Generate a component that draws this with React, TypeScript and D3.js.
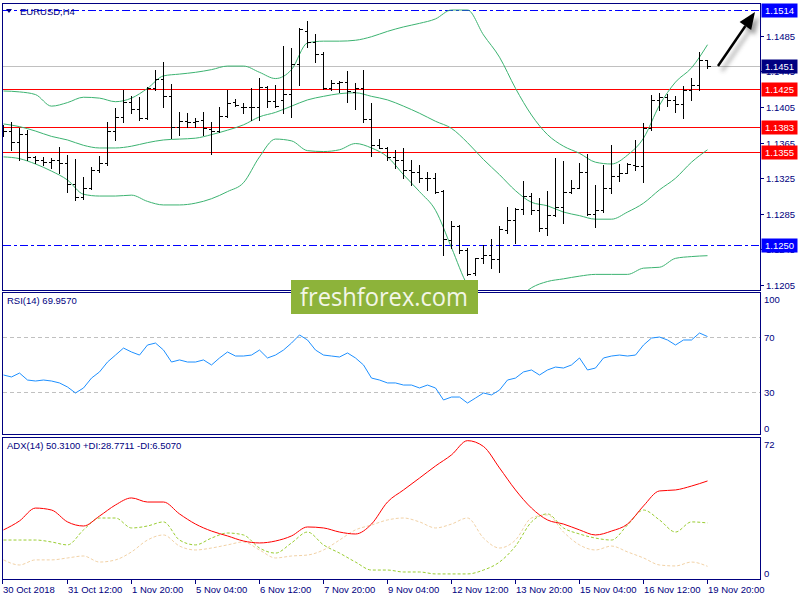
import React from "react";
import * as d3 from "d3";

const dateLabels = ["30 Oct 2018", "31 Oct 12:00", "1 Nov 20:00", "5 Nov 04:00", "6 Nov 12:00", "7 Nov 20:00", "9 Nov 04:00", "12 Nov 12:00", "13 Nov 20:00", "15 Nov 04:00", "16 Nov 12:00", "19 Nov 20:00"];
const dateTickBars = [0, 8, 16, 24, 32, 40, 48, 56, 64, 72, 80, 88];
const priceTicks = [1.1485, 1.1445, 1.1405, 1.1365, 1.1325, 1.1285, 1.1245, 1.1205];
const redLevels = [1.1425, 1.1383, 1.1355];
const blueLevels = [1.1514, 1.125];
const bidPrice = 1.1451;

const opens = [1.1379, 1.1378, 1.1366, 1.1375, 1.1349, 1.1346, 1.1343, 1.1346, 1.1342, 1.1319,
  1.1304, 1.1314, 1.1334, 1.1342, 1.1378, 1.1394, 1.1411, 1.1403, 1.1393, 1.1426,
  1.1437, 1.1417, 1.1383, 1.1389, 1.1388, 1.1390, 1.1380, 1.1378, 1.1395, 1.1411,
  1.1405, 1.1405, 1.1405, 1.1428, 1.1412, 1.1413, 1.1420, 1.1453, 1.1490, 1.1478,
  1.1465, 1.1426, 1.1432, 1.1433, 1.1422, 1.1426, 1.1392, 1.1362, 1.1359, 1.1349,
  1.1346, 1.1334, 1.1332, 1.1325, 1.1325, 1.1311, 1.1256, 1.1271, 1.1244, 1.1219,
  1.1235, 1.1239, 1.1234, 1.1267, 1.1278, 1.1290, 1.1305, 1.1289, 1.1269, 1.1284,
  1.1293, 1.1310, 1.1314, 1.1332, 1.1285, 1.1289, 1.1314, 1.1328, 1.1331, 1.1340,
  1.1339, 1.1381, 1.1413, 1.1416, 1.1413, 1.1408, 1.1424, 1.1430, 1.1458];
const highs = [1.1385, 1.1388, 1.1381, 1.1379, 1.1350, 1.1349, 1.1348, 1.1360, 1.1351, 1.1347,
  1.1326, 1.1338, 1.1350, 1.1388, 1.1404, 1.1424, 1.1417, 1.1416, 1.1428, 1.1447,
  1.1456, 1.1431, 1.1399, 1.1398, 1.1393, 1.1399, 1.1388, 1.1405, 1.1424, 1.1414,
  1.1410, 1.1426, 1.1438, 1.1429, 1.1430, 1.1474, 1.1471, 1.1494, 1.1502, 1.1487,
  1.1467, 1.1435, 1.1434, 1.1446, 1.1432, 1.1447, 1.1410, 1.1369, 1.1360, 1.1357,
  1.1359, 1.1346, 1.1340, 1.1332, 1.1331, 1.1312, 1.1277, 1.1273, 1.1247, 1.1235,
  1.1250, 1.1257, 1.1271, 1.1293, 1.1292, 1.1322, 1.1308, 1.1303, 1.1311, 1.1348,
  1.1344, 1.1323, 1.1342, 1.1352, 1.1317, 1.1340, 1.1362, 1.1341, 1.1342, 1.1368,
  1.1387, 1.1419, 1.1421, 1.1420, 1.1417, 1.1429, 1.1438, 1.1467, 1.1458];
const lows = [1.1372, 1.1357, 1.1346, 1.1346, 1.1342, 1.1340, 1.1337, 1.1331, 1.1310, 1.1301,
  1.1302, 1.1313, 1.1332, 1.1340, 1.1368, 1.1388, 1.1398, 1.1390, 1.1392, 1.1424,
  1.1405, 1.1370, 1.1374, 1.1383, 1.1383, 1.1374, 1.1352, 1.1377, 1.1394, 1.1406,
  1.1398, 1.1390, 1.1390, 1.1405, 1.1405, 1.1398, 1.1394, 1.1430, 1.1472, 1.1456,
  1.1425, 1.1424, 1.1422, 1.1411, 1.1403, 1.1388, 1.1350, 1.1359, 1.1346, 1.1337,
  1.1325, 1.1317, 1.1321, 1.1312, 1.1308, 1.1239, 1.1247, 1.1241, 1.1216, 1.1216,
  1.1230, 1.1224, 1.1220, 1.1263, 1.1252, 1.1285, 1.1285, 1.1266, 1.1261, 1.1283,
  1.1275, 1.1308, 1.1314, 1.1284, 1.1270, 1.1287, 1.1308, 1.1322, 1.1331, 1.1334,
  1.1321, 1.1379, 1.1402, 1.1406, 1.1399, 1.1393, 1.1413, 1.1424, 1.1449];
const closes = [1.1378, 1.1366, 1.1375, 1.1349, 1.1346, 1.1343, 1.1346, 1.1342, 1.1319, 1.1304,
  1.1314, 1.1334, 1.1342, 1.1378, 1.1394, 1.1411, 1.1403, 1.1393, 1.1426, 1.1437,
  1.1417, 1.1383, 1.1389, 1.1388, 1.1389, 1.1381, 1.1378, 1.1395, 1.1410, 1.1407,
  1.1405, 1.1405, 1.1428, 1.1412, 1.1406, 1.1420, 1.1453, 1.1493, 1.1478, 1.1465,
  1.1426, 1.1432, 1.1433, 1.1423, 1.1426, 1.1392, 1.1362, 1.1359, 1.1349, 1.1346,
  1.1334, 1.1332, 1.1325, 1.1325, 1.1310, 1.1257, 1.1271, 1.1244, 1.1217, 1.1235,
  1.1239, 1.1234, 1.1268, 1.1278, 1.1290, 1.1305, 1.1289, 1.1269, 1.1284, 1.1293,
  1.1310, 1.1314, 1.1332, 1.1285, 1.1289, 1.1314, 1.1328, 1.1331, 1.1341, 1.1339,
  1.1381, 1.1413, 1.1416, 1.1413, 1.1408, 1.1424, 1.1430, 1.1458, 1.1451];

// Bollinger bands, read every second bar (bars 0,2,4,...,88)
const bbUpper = [1.1423, 1.1422, 1.1419, 1.1406, 1.1410, 1.1416, 1.1415, 1.1411, 1.1415, 1.1426,
  1.1440, 1.1442, 1.1444, 1.1447, 1.1451, 1.1451, 1.1444, 1.1437, 1.1447, 1.1477,
  1.1479, 1.1479, 1.1480, 1.1484, 1.1490, 1.1495, 1.1499, 1.1504, 1.1514, 1.1514,
  1.1486, 1.1461, 1.1426, 1.1396, 1.1374, 1.1361, 1.1353, 1.1343, 1.1341, 1.1351,
  1.1370, 1.1407, 1.1433, 1.1449, 1.1475];
const bbMiddle = [1.1386, 1.1383, 1.1378, 1.1372, 1.1368, 1.1362, 1.1359, 1.1359, 1.1361, 1.1365,
  1.1368, 1.1369, 1.1370, 1.1374, 1.1379, 1.1385, 1.1394, 1.1399, 1.1406, 1.1413,
  1.1417, 1.1420, 1.1421, 1.1417, 1.1413, 1.1406, 1.1398, 1.1389, 1.1381, 1.1365,
  1.1346, 1.1329, 1.1311, 1.1298, 1.1294, 1.1287, 1.1283, 1.1279, 1.1279, 1.1287,
  1.1297, 1.1312, 1.1325, 1.1343, 1.1357];
const bbLower = [1.1349, 1.1347, 1.1341, 1.1333, 1.1323, 1.1307, 1.1305, 1.1305, 1.1306, 1.1299,
  1.1295, 1.1295, 1.1297, 1.1302, 1.1310, 1.1320, 1.1349, 1.1369, 1.1367, 1.1356,
  1.1355, 1.1357, 1.1364, 1.1359, 1.1349, 1.1329, 1.1310, 1.1289, 1.1247, 1.1205,
  1.1188, 1.1181, 1.1188, 1.1202, 1.1209, 1.1212, 1.1215, 1.1217, 1.1217, 1.1217,
  1.1224, 1.1225, 1.1235, 1.1237, 1.1238];

const rsi = [42.4, 41.0, 43.8, 38.8, 38.1, 38.8, 38.1, 36.7, 33.8, 29.5,
  33.1, 40.2, 44.6, 51.7, 56.7, 61.7, 58.9, 56.7, 63.9, 65.3,
  60.3, 51.7, 53.2, 51.7, 51.7, 53.2, 49.6, 54.6, 58.9, 56.0,
  56.0, 56.7, 60.3, 54.6, 56.7, 60.3, 65.3, 71.1, 67.5, 60.3,
  56.7, 56.0, 55.3, 58.2, 54.6, 49.6, 40.2, 38.8, 36.7, 36.7,
  35.2, 35.2, 33.1, 35.2, 33.1, 24.5, 26.6, 26.6, 22.3, 25.9,
  29.5, 28.1, 31.6, 38.8, 40.2, 44.6, 46.0, 42.4, 46.0, 48.1,
  47.4, 49.6, 54.6, 46.0, 47.4, 54.6, 56.0, 56.7, 56.0, 56.7,
  63.9, 68.9, 69.6, 67.5, 63.9, 67.5, 67.5, 72.5, 69.957];

// ADX(14), read every second bar
const adx = [25.2, 29.8, 36.4, 35.4, 29.3, 27.2, 32.3, 38.0, 41.6, 39.5,
  39.5, 33.4, 28.2, 24.6, 22.1, 19.5, 18.5, 19.5, 22.1, 26.7,
  26.2, 24.1, 23.1, 28.2, 39.5, 45.7, 51.8, 58.0, 63.7, 71.0,
  68.0, 57.0, 45.7, 36.4, 30.3, 28.2, 25.2, 22.6, 24.6, 28.2,
  37.5, 45.2, 45.7, 47.7, 50.31];
const plusDI = [20.0, 20.0, 20.0, 19.0, 17.5, 25.2, 31.3, 31.3, 26.2, 27.2,
  29.3, 20.0, 17.5, 21.0, 23.6, 22.6, 15.9, 13.3, 18.5, 24.1,
  17.5, 13.3, 8.7, 4.6, 4.6, 3.6, 3.6, 2.6, 2.6, 2.6,
  4.6, 8.7, 16.9, 29.3, 33.4, 26.2, 23.1, 21.0, 20.0, 27.7,
  35.4, 30.3, 24.1, 29.3, 28.77];
const minusDI = [9.8, 7.2, 9.8, 9.8, 10.8, 11.8, 8.7, 9.8, 13.9, 20.0,
  22.6, 16.9, 14.9, 15.9, 17.5, 19.0, 14.9, 10.8, 11.8, 12.3,
  14.9, 20.0, 25.2, 27.7, 30.3, 31.3, 29.3, 26.2, 28.2, 31.3,
  21.0, 15.9, 20.0, 31.3, 32.9, 24.1, 17.5, 14.9, 16.9, 13.9,
  10.8, 7.2, 6.7, 8.7, 6.507];

const navy = "#000080";
const font = "'Liberation Sans', Arial, sans-serif";

export default function App() {
  const x = d3.scaleLinear().domain([0, 88]).range([3.5, 707.5]);
  const yP = d3.scaleLinear().domain([1.1514, 1.125]).range([10, 245]);
  const yR = d3.scaleLinear().domain([0, 100]).range([434.15, 294.65]);
  const yA = d3.scaleLinear().domain([0, 72]).range([579, 438.7]);
  const snap = (v: number) => Math.round(v) + 0.5;

  const band = (vals: number[]) =>
    d3.line<number>().x((_, k) => x(k * 2)).y((v) => yP(v)).curve(d3.curveMonotoneX)(vals) || "";
  const rsiPath = d3.line<number>().x((_, k) => x(k)).y((v) => yR(v))(rsi) || "";
  const adxLine = (vals: number[]) =>
    d3.line<number>().x((_, k) => x(k * 2)).y((v) => yA(v)).curve(d3.curveMonotoneX)(vals) || "";

  const fmt = d3.format(".4f");

  const labelBox = (p: number, fill: string) => {
    const cy = snap(yP(p));
    return (
      <g key={"lb" + p}>
        <rect x={761.5} y={cy - 7} width={36} height={14} fill={fill} />
        <text x={765} y={cy + 3.5} fill="#ffffff" fontSize={9.5} fontFamily={font}>{fmt(p)}</text>
      </g>
    );
  };

  const tail = [718, 66];
  const tip = [755, 12];
  const dx = tip[0] - tail[0], dy = tip[1] - tail[1];
  const len = Math.hypot(dx, dy);
  const ux = dx / len, uy = dy / len;
  const nx = -uy, ny = ux;
  const bx = tip[0] - 17 * ux, by = tip[1] - 17 * uy;
  const head = `${tip[0]},${tip[1]} ${bx + 7 * nx},${by + 7 * ny} ${bx - 7 * nx},${by - 7 * ny}`;

  return (
    <svg width={800} height={600} style={{ position: "absolute", left: 0, top: 0, background: "#fff" }}>
      <defs>
        <clipPath id="mainClip"><rect x={3} y={4} width={757} height={286} /></clipPath>
        <clipPath id="rsiClip"><rect x={3} y={293} width={757} height={141} /></clipPath>
        <clipPath id="adxClip"><rect x={3} y={438} width={757} height={141} /></clipPath>
        <filter id="blur" x="-50%" y="-50%" width="200%" height="200%">
          <feGaussianBlur stdDeviation={2} />
        </filter>
      </defs>
      <rect x={0} y={0} width={800} height={600} fill="#ffffff" />

      <g clipPath="url(#mainClip)">
        <line x1={3} x2={760} y1={snap(yP(bidPrice))} y2={snap(yP(bidPrice))} stroke="#c0c0c0" />
        {redLevels.map((p) => (
          <line key={"r" + p} x1={3} x2={760} y1={snap(yP(p))} y2={snap(yP(p))} stroke="#ff0000" />
        ))}
        {blueLevels.map((p) => (
          <line key={"b" + p} x1={3} x2={760} y1={snap(yP(p))} y2={snap(yP(p))} stroke="#0000ff" strokeDasharray="8,3,3,3" />
        ))}
        <path d={band(bbUpper)} fill="none" stroke="#3cb371" strokeWidth={1} />
        <path d={band(bbMiddle)} fill="none" stroke="#3cb371" strokeWidth={1} />
        <path d={band(bbLower)} fill="none" stroke="#3cb371" strokeWidth={1} />
        <g stroke="#000" strokeWidth={1} shapeRendering="crispEdges">
          {closes.map((c, i) => {
            const xi = x(i);
            const yo = snap(yP(opens[i]));
            const yc = snap(yP(c));
            return (
              <g key={"bar" + i}>
                <line x1={xi} x2={xi} y1={Math.round(yP(highs[i]))} y2={Math.round(yP(lows[i])) + 1} />
                <line x1={xi - 3} x2={xi} y1={yo} y2={yo} />
                <line x1={xi} x2={xi + 3} y1={yc} y2={yc} />
              </g>
            );
          })}
        </g>
      </g>
      <text x={20} y={15} fill={navy} fontSize={9.5} fontFamily={font}>EURUSD,H4</text>
      <path d="M6,9 L12,9 L9,13 Z" fill={navy} />

      {priceTicks.map((p) => {
        const y = snap(yP(p));
        return (
          <g key={"pt" + p}>
            <line x1={761} x2={764} y1={y} y2={y} stroke={navy} />
            <text x={766} y={y + 3.5} fill={navy} fontSize={9.5} fontFamily={font}>{fmt(p)}</text>
          </g>
        );
      })}
      {labelBox(1.1514, "#0000ff")}
      {labelBox(bidPrice, "#000080")}
      {redLevels.map((p) => labelBox(p, "#ff0000"))}
      {labelBox(1.125, "#0000ff")}

      <g clipPath="url(#rsiClip)">
        {[70, 30].map((v) => (
          <line key={"rl" + v} x1={3} x2={760} y1={snap(yR(v))} y2={snap(yR(v))} stroke="#c0c0c0" strokeDasharray="4,3" />
        ))}
        <path d={rsiPath} fill="none" stroke="#1e90ff" strokeWidth={1} />
      </g>
      <text x={7} y={304} fill={navy} fontSize={9.5} fontFamily={font}>RSI(14) 69.9570</text>
      <text x={764} y={303} fill={navy} fontSize={9.5} fontFamily={font}>100</text>
      <text x={764} y={snap(yR(70)) + 3.5} fill={navy} fontSize={9.5} fontFamily={font}>70</text>
      <text x={764} y={snap(yR(30)) + 3.5} fill={navy} fontSize={9.5} fontFamily={font}>30</text>
      <text x={764} y={432} fill={navy} fontSize={9.5} fontFamily={font}>0</text>

      <g clipPath="url(#adxClip)">
        <path d={adxLine(plusDI)} fill="none" stroke="#9acd32" strokeWidth={1} strokeDasharray="3,2" />
        <path d={adxLine(minusDI)} fill="none" stroke="#f2d2a6" strokeWidth={1} strokeDasharray="3,2" />
        <path d={adxLine(adx)} fill="none" stroke="#ff0000" strokeWidth={1} />
      </g>
      <text x={7} y={449} fill={navy} fontSize={9.5} fontFamily={font}>ADX(14) 50.3100 +DI:28.7711 -DI:6.5070</text>
      <text x={764} y={448} fill={navy} fontSize={9.5} fontFamily={font}>72</text>
      <text x={764} y={577} fill={navy} fontSize={9.5} fontFamily={font}>0</text>

      <g fill="none" stroke={navy} strokeWidth={1} shapeRendering="crispEdges">
        <rect x={2.5} y={3.5} width={758} height={287} />
        <rect x={2.5} y={292.5} width={758} height={142} />
        <rect x={2.5} y={437.5} width={758} height={142} />
      </g>

      {dateTickBars.map((b, k) => {
        const xt = Math.floor(x(b)) + 0.5 - (k === 0 ? 1 : 0);
        return (
          <g key={"dt" + b}>
            <line x1={xt} x2={xt} y1={579.5} y2={584} stroke={navy} />
            <text x={xt + 0.5} y={593} fill={navy} fontSize={9.5} fontFamily={font}>{dateLabels[k]}</text>
          </g>
        );
      })}

      <rect x={291} y={280} width={187} height={34} fill="#8db33a" />
      <text x={300} y={306} fill="#f3f6e6" fontSize={25} fontFamily="'Open Sans', 'Noto Sans', sans-serif" textLength={168} lengthAdjust="spacingAndGlyphs">freshforex.com</text>

      <g transform="translate(4,5)" filter="url(#blur)" opacity={0.55}>
        <line x1={tail[0]} y1={tail[1]} x2={bx} y2={by} stroke="#555" strokeWidth={2.5} />
        <polygon points={head} fill="#555" />
      </g>
      <line x1={tail[0]} y1={tail[1]} x2={bx} y2={by} stroke="#000" strokeWidth={2.5} />
      <polygon points={head} fill="#000" />
    </svg>
  );
}
